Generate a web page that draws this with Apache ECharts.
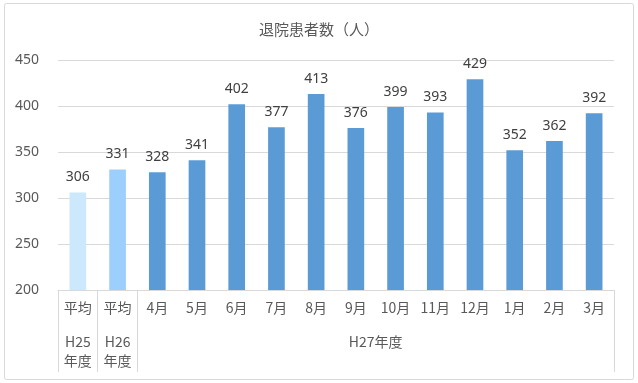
<!DOCTYPE html>
<html><head><meta charset="utf-8">
<script src="https://cdn.jsdelivr.net/npm/echarts@6/dist/echarts.min.js"></script>
<style>html,body{margin:0;padding:0;background:#fff}#c{width:638px;height:383px}</style>
</head><body><div id="c"></div>
<script>
const titleText = '退院患者数（人）';
const categories = ['平均','平均','4月','5月','6月','7月','8月','9月','10月','11月','12月','1月','2月','3月'];
const values = [306,331,328,341,402,377,413,376,399,393,429,352,362,392];
const groupLabels = ['H25\n年度','H26\n年度','H27年度'];
const yTicks = {min:200, max:450, interval:50};
const barColors = ['#CCE8FC','#9DCFFD','#5B9BD5'];

// group axis: half-category resolution (29 points, boundaryGap false)
const groupSlots = new Array(categories.length*2+1).fill('');
groupSlots[1] = groupLabels[0];
groupSlots[3] = groupLabels[1];
groupSlots[categories.length+2] = groupLabels[2];
const groupTickIdx = [0,2,4,categories.length*2];

const chart = echarts.init(document.getElementById('c'));
chart.setOption({
  backgroundColor:'#fff',
  animation:false,
  title:{text:titleText,left:'center',top:17,textStyle:{fontFamily:'Noto Sans CJK JP',fontSize:15,fontWeight:'normal',color:'#595959'}},
  graphic:[{type:'rect',shape:{x:4.5,y:3.5,width:629,height:376,r:2},style:{fill:'none',stroke:'#D9D9D9',lineWidth:1},silent:true}],
  grid:{left:58,right:24,top:60,bottom:93},
  xAxis:[{
    type:'category',data:categories,
    axisLine:{lineStyle:{color:'#D9D9D9'}},
    axisTick:{show:false},
    axisLabel:{color:'#595959',fontSize:14,fontFamily:'Noto Sans CJK JP',margin:11,interval:0}
  },{
    type:'category',data:groupSlots,position:'bottom',boundaryGap:false,
    axisLine:{show:false},
    axisTick:{show:true,length:82,interval:(i)=>groupTickIdx.includes(i),lineStyle:{color:'#D9D9D9'}},
    axisLabel:{interval:0,color:'#595959',fontSize:14,fontFamily:'Noto Sans CJK JP',margin:42,lineHeight:19,verticalAlign:'top'}
  }],
  yAxis:{type:'value',min:yTicks.min,max:yTicks.max,interval:yTicks.interval,
    axisLine:{show:false},axisTick:{show:false},
    axisLabel:{color:'#595959',fontSize:14,fontFamily:'Noto Sans',margin:19},
    splitLine:{lineStyle:{color:'#D9D9D9'}}},
  series:[{
    type:'bar',data:values,barWidth:'42%',xAxisIndex:0,
    itemStyle:{color:(p)=>p.dataIndex<2?barColors[p.dataIndex]:barColors[2]},
    label:{show:true,position:'top',distance:8,color:'#404040',fontSize:14,fontFamily:'Noto Sans'}
  }]
});
</script></body></html>
